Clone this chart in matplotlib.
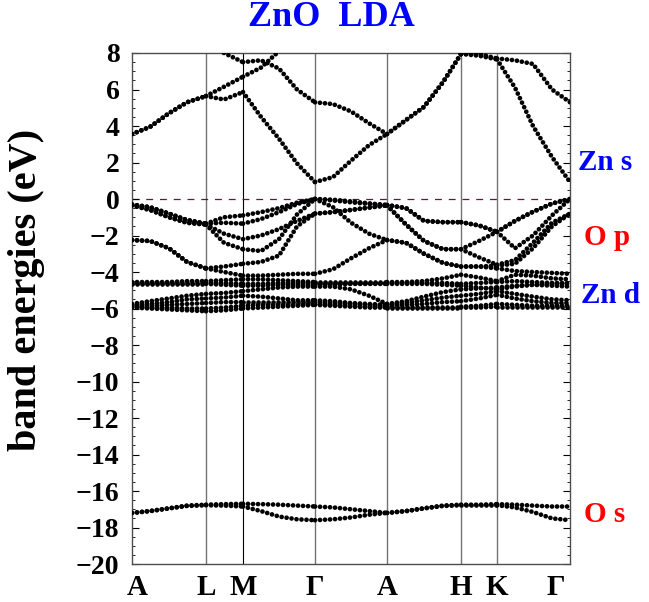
import numpy as np
import matplotlib
matplotlib.use('Agg')
import matplotlib.pyplot as plt
from matplotlib.ticker import MultipleLocator
from matplotlib.transforms import ScaledTranslation

# k-path (arbitrary distance units), high symmetry points
sym_k = [0, 74, 111, 183, 255, 329, 365, 438]
sym_labels = ['A', 'L', 'M', 'Γ', 'A', 'H', 'K', 'Γ']

k = [0, 18, 37, 55, 74, 92, 111, 129, 147, 165, 183, 201, 219, 237,
     255, 274, 292, 311, 329, 347, 365, 383, 401, 420, 438]

# conduction bands (Zn s)
c1 = [3.56, 3.95, 4.7, 5.3, 5.64, 5.45, 5.86, 4.5, 3.3, 1.95, 0.93, 1.2, 2.1, 2.95,
      3.56, 4.33, 5.05, 6.4, 7.95, 7.85, 7.65, 6.1, 4.0, 2.3, 0.93]
c2 = [3.56, 3.95, 4.7, 5.3, 5.64, 6.15, 6.7, 7.2, 8.1, 8.8, 9.3, 9.5, 9.6, 9.7,
      9.8, 9.9, 10.0, 10.0, 10.0, 10.0, 10.0, 10.0, 10.0, 10.0, 10.0]
c3 = [10.0, 9.7, 9.3, 8.9, 8.5, 8.0, 7.5, 7.6, 7.15, 6.0, 5.3, 5.2, 4.8, 4.15,
      3.56, 4.33, 5.05, 6.4, 7.95, 7.95, 7.7, 7.6, 7.4, 6.0, 5.3]

# valence bands (O p)
p1 = [-0.3, -0.45, -0.8, -1.15, -1.35, -1.0, -0.9, -0.72, -0.5, -0.2, 0.0, -0.04, -0.13, -0.24,
      -0.33, -0.5, -1.2, -1.27, -1.27, -1.45, -1.8, -2.7, -2.0, -0.9, 0.0]
p2 = [-0.3, -0.45, -0.8, -1.15, -1.35, -1.3, -1.35, -1.1, -0.72, -0.28, 0.0, -0.08, -0.18, -0.27,
      -0.33, -0.5, -1.2, -1.27, -1.27, -1.45, -1.8, -1.2, -0.7, -0.25, 0.0]
p3 = [-0.35, -0.6, -1.0, -1.3, -1.4, -2.4, -2.75, -2.85, -2.2, -0.85, 0.0, -0.45, -1.3, -1.9,
      -2.25, -2.4, -3.0, -3.5, -3.7, -3.7, -3.65, -3.55, -2.7, -1.5, -0.8]
p4 = [-0.35, -0.6, -1.0, -1.3, -1.4, -1.9, -2.2, -2.0, -1.65, -1.2, -0.8, -0.72, -0.6, -0.47,
      -0.35, -1.4, -2.3, -2.75, -2.75, -3.2, -3.6, -3.35, -2.4, -1.3, -0.8]
p5 = [-2.25, -2.3, -2.7, -3.45, -3.8, -3.7, -3.55, -3.45, -3.1, -1.5, -0.8, -0.72, -0.6, -0.47,
      -0.35, -1.4, -2.3, -2.75, -2.75, -2.3, -1.8, -1.2, -0.7, -0.25, 0.0]
p6 = [-2.25, -2.3, -2.7, -3.45, -3.8, -4.0, -4.2, -4.2, -4.15, -4.1, -4.1, -3.85, -3.25, -2.7,
      -2.25, -2.4, -3.0, -3.5, -3.7, -3.7, -3.8, -3.95, -4.0, -4.05, -4.1]

# Zn d bands
d1 = [-4.55, -4.55, -4.55, -4.5, -4.5, -4.45, -4.4, -4.4, -4.45, -4.5, -4.55, -4.55, -4.55, -4.55,
      -4.55, -4.55, -4.5, -4.35, -4.15, -4.3, -4.5, -4.15, -4.2, -4.35, -4.4]
d2 = [-4.6, -4.6, -4.6, -4.6, -4.6, -4.6, -4.65, -4.65, -4.6, -4.6, -4.6, -4.6, -4.6, -4.6,
      -4.6, -4.6, -4.6, -4.6, -4.65, -4.6, -4.55, -4.5, -4.55, -4.6, -4.6]
d3 = [-4.65, -4.65, -4.65, -4.65, -4.65, -4.7, -4.75, -4.75, -4.7, -4.7, -4.7, -4.7, -4.65, -4.65,
      -4.65, -4.65, -4.65, -4.7, -4.75, -4.85, -4.95, -4.8, -4.7, -4.65, -4.65]
d4 = [-5.75, -5.6, -5.45, -5.3, -5.2, -5.15, -5.05, -4.95, -4.85, -4.8, -4.8, -4.8, -4.95, -5.3,
      -5.75, -5.6, -5.35, -5.1, -4.95, -4.9, -4.85, -4.75, -4.7, -4.75, -4.8]
d5 = [-5.8, -5.75, -5.65, -5.5, -5.45, -5.4, -5.3, -5.35, -5.45, -5.55, -5.55, -5.6, -5.7, -5.75,
      -5.8, -5.7, -5.55, -5.4, -5.3, -5.2, -5.05, -5.2, -5.35, -5.5, -5.55]
d6 = [-5.85, -5.85, -5.8, -5.75, -5.7, -5.65, -5.65, -5.65, -5.65, -5.65, -5.65, -5.7, -5.75, -5.8,
      -5.85, -5.8, -5.75, -5.65, -5.6, -5.45, -5.25, -5.45, -5.6, -5.7, -5.7]
d7 = [-5.9, -5.95, -5.95, -6.0, -6.0, -5.95, -5.85, -5.8, -5.8, -5.8, -5.75, -5.8, -5.85, -5.9,
      -5.9, -5.9, -5.9, -5.9, -5.9, -5.85, -5.75, -5.8, -5.85, -5.85, -5.85]
d8 = [-5.95, -6.0, -6.05, -6.1, -6.15, -6.1, -6.0, -5.95, -5.9, -5.85, -5.8, -5.85, -5.9, -5.95,
      -5.95, -5.95, -5.95, -5.95, -5.95, -5.95, -5.9, -5.9, -5.9, -5.9, -5.9]

# O s bands
s1 = [-17.2, -17.1, -16.95, -16.8, -16.75, -16.72, -16.7, -16.72, -16.75, -16.8, -16.85, -16.9, -17.0, -17.1,
      -17.2, -17.1, -16.95, -16.8, -16.75, -16.75, -16.72, -16.75, -16.8, -16.85, -16.85]
s2 = [-17.2, -17.1, -16.95, -16.82, -16.78, -16.8, -16.85, -17.1, -17.4, -17.55, -17.6, -17.55, -17.45, -17.3,
      -17.2, -17.1, -16.95, -16.82, -16.78, -16.78, -16.78, -16.9, -17.15, -17.5, -17.6]

bands = [c1, c2, c3, p1, p2, p3, p4, p5, p6, d1, d2, d3, d4, d5, d6, d7, d8, s1, s2]

plt.rcParams['font.family'] = ['Liberation Serif', 'DejaVu Serif']
plt.rcParams['font.weight'] = 'bold'

fig = plt.figure(figsize=(6.49, 6.02), dpi=100)
ax = fig.add_axes([132 / 649, 38 / 602, 438 / 649, 511 / 602])

for x in sym_k[1:-1]:
    if x == 111:
        ax.axvline(x, color='black', lw=0.8, zorder=1)
    else:
        ax.axvline(x, color='0.45', lw=1.0, zorder=1)

ax.axhline(0, color='#6b1040', lw=0.9, ls=(0, (5.5, 5.5)), zorder=1)

# draw each path segment separately so the dots restart at every symmetry point
seg_idx = [k.index(s) for s in sym_k]
for e in bands:
    for i0, i1 in zip(seg_idx[:-1], seg_idx[1:]):
        ax.plot(k[i0:i1 + 1], e[i0:i1 + 1], color='black', lw=3.4,
                ls=(0, (0.01, 1.05)), dash_capstyle='round', zorder=3)

ax.set_xlim(sym_k[0], sym_k[-1])
ax.set_ylim(-20, 8)
ax.yaxis.set_major_locator(MultipleLocator(2))
ax.yaxis.set_minor_locator(MultipleLocator(0.5))
ax.tick_params(axis='y', which='both', direction='in', left=True, right=True,
               labelsize=20, pad=9)
ax.tick_params(axis='y', which='major', length=5, width=0.8)
ax.tick_params(axis='y', which='minor', length=2.5, width=0.6)
ax.set_xticks(sym_k, sym_labels)
ax.tick_params(axis='x', length=0, labelsize=21, pad=7)
for sp in ax.spines.values():
    sp.set_color('0.3')
    sp.set_linewidth(1.0)

xl = ax.get_xticklabels()
xl[0].set_transform(xl[0].get_transform() + ScaledTranslation(4 / 72, 0, fig.dpi_scale_trans))
xl[-1].set_transform(xl[-1].get_transform() + ScaledTranslation(-10 / 72, 0, fig.dpi_scale_trans))

fig.text(331 / 649, 1 - 17 / 602, 'ZnO  LDA', color='blue', fontsize=26,
         fontweight='bold', ha='center', va='center')
fig.text(27 / 649, 1 - 290 / 602, 'band energies (eV)', rotation=90, fontsize=29,
         fontweight='bold', ha='center', va='center')

yt = ax.get_yaxis_transform()
ax.text(1.018, 2.0, 'Zn s', color='blue', fontsize=21, fontweight='bold',
        transform=yt, ha='left', va='center')
ax.text(1.032, -2.1, 'O p', color='red', fontsize=21, fontweight='bold',
        transform=yt, ha='left', va='center')
ax.text(1.025, -5.3, 'Zn d', color='blue', fontsize=21, fontweight='bold',
        transform=yt, ha='left', va='center')
ax.text(1.032, -17.3, 'O s', color='red', fontsize=21, fontweight='bold',
        transform=yt, ha='left', va='center')

fig.savefig('out.png', dpi=100)
